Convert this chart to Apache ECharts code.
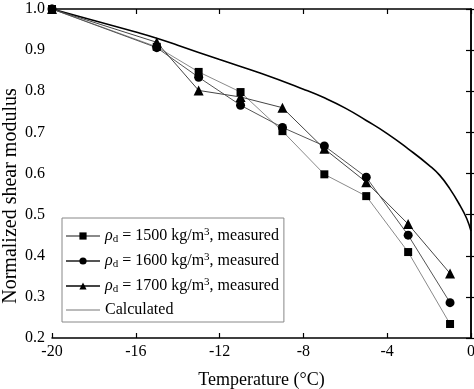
<!DOCTYPE html>
<html><head><meta charset="utf-8">
<script src="https://cdn.jsdelivr.net/npm/echarts@6/dist/echarts.min.js"></script>
<style>html,body{margin:0;padding:0;background:#fff}#c{width:474px;height:389px}</style>
</head><body><div id="c"></div>
<script>
var temps = [-20, -15, -13, -11, -9, -7, -5, -3, -1];
var g1500 = [1.0, 0.908, 0.847, 0.798, 0.703, 0.598, 0.545, 0.409, 0.234];
var g1600 = [1.0, 0.906, 0.834, 0.766, 0.712, 0.667, 0.591, 0.450, 0.286];
var g1700 = [1.0, 0.919, 0.802, 0.786, 0.760, 0.660, 0.579, 0.477, 0.357];
var calcT = [-20, -18, -16, -15, -14, -12, -10, -8, -7, -6, -5, -4, -3, -2, -1.5, -1, -0.5, -0.2, 0];
var calcG = [1.0, 0.972, 0.944, 0.929, 0.912, 0.877, 0.843, 0.805, 0.784, 0.759, 0.729, 0.697, 0.660, 0.620, 0.596, 0.562, 0.52, 0.49, 0.46];
var names = ['1500', '1600', '1700', 'Calculated'];
var xTicks = ['-20', '-16', '-12', '-8', '-4', '0'];
var yTitle = 'Normalized shear modulus';

function pairs(xs, ys) { return xs.map(function (x, i) { return [x, ys[i]]; }); }
var F = 'Liberation Serif, Times New Roman, serif';
var chart = echarts.init(document.getElementById('c'), null, {renderer: 'canvas'});
function meas(name, data, sym, size, col) {
  return {name: name, type: 'line', data: pairs(temps, data), symbol: sym, symbolSize: size,
    lineStyle: {color: col, width: 1}, itemStyle: {color: '#000'}, z: 3};
}
chart.setOption({
  animation: false,
  grid: {left: 52, right: 3, top: 9, bottom: 51, containLabel: false, outerBoundsMode: 'none'},
  graphic: [{type: 'text', x: 11, y: 196, rotation: Math.PI / 2,
    style: {text: yTitle, fill: '#000', font: '20px ' + F, textAlign: 'center', textVerticalAlign: 'middle'}}],
  xAxis: [{type: 'value', min: -20, max: 0, interval: 4,
    axisLine: {lineStyle: {color: '#000', width: 1.5}},
    axisTick: {inside: true, length: 5, lineStyle: {color: '#000', width: 1.2}},
    splitLine: {show: false},
    axisLabel: {color: '#000', fontFamily: F, fontSize: 16, margin: 6, formatter: function (v) { return xTicks[(v + 20) / 4]; }},
    name: 'Temperature (°C)', nameLocation: 'middle', nameGap: 33,
    nameTextStyle: {color: '#000', fontFamily: F, fontSize: 18}},
   {type: 'value', min: -20, max: 0, interval: 4, position: 'top',
    axisLine: {lineStyle: {color: '#000', width: 1.5}},
    axisTick: {inside: true, length: 5, lineStyle: {color: '#000', width: 1.2}},
    axisLabel: {show: false}, splitLine: {show: false}}],
  yAxis: [{type: 'value', min: 0.2, max: 1.0, interval: 0.1,
    axisLine: {show: true, lineStyle: {color: '#000', width: 1.5}},
    axisTick: {show: true, inside: true, length: 5, lineStyle: {color: '#000', width: 1.2}},
    splitLine: {show: false},
    axisLabel: {color: '#000', fontFamily: F, fontSize: 16, margin: 7, formatter: function (v) { return v.toFixed(1); }}},
   {type: 'value', min: 0.2, max: 1.0, interval: 0.1, position: 'right',
    axisLine: {show: true, lineStyle: {color: '#000', width: 1.5}},
    axisTick: {show: true, inside: true, length: 5, lineStyle: {color: '#000', width: 1.2}},
    axisLabel: {show: false}, splitLine: {show: false}}],
  legend: {
    left: 62, top: 218, orient: 'vertical', itemWidth: 34, itemHeight: 9, itemGap: 7,
    padding: [9, 5, 4, 3], borderColor: '#888', borderWidth: 1, backgroundColor: '#fff',
    data: ['1500', '1600', '1700', {name: 'Calculated', itemStyle: {opacity: 0}, lineStyle: {color: '#777', width: 1}}],
    textStyle: {color: '#000', fontFamily: F, fontSize: 16,
      rich: {
        i: {fontFamily: F, fontSize: 16, fontStyle: 'italic', color: '#000'},
        sub: {fontFamily: F, fontSize: 11, color: '#000', verticalAlign: 'bottom', padding: [6, 0, 0, 0]},
        sup: {fontFamily: F, fontSize: 11, color: '#000', verticalAlign: 'top', padding: [0, 0, 7, 0]},
        t: {fontFamily: F, fontSize: 16, color: '#000'}
      }},
    formatter: function (n) {
      if (n === 'Calculated') return '{t|Calculated}';
      return '{i|ρ}{sub|d}{t| = ' + n + ' kg/m}{sup|3}{t|, measured}';
    }
  },
  series: [
    meas('1500', g1500, 'rect', 8, '#8a8a8a'),
    meas('1600', g1600, 'circle', 9, '#555'),
    meas('1700', g1700, 'triangle', 10, '#444'),
    {name: 'Calculated', type: 'line', data: pairs(calcT, calcG), symbol: 'none', smooth: 0.5,
      lineStyle: {color: '#000', width: 1.6}, itemStyle: {color: '#777'}, z: 2}
  ]
});
</script></body></html>
